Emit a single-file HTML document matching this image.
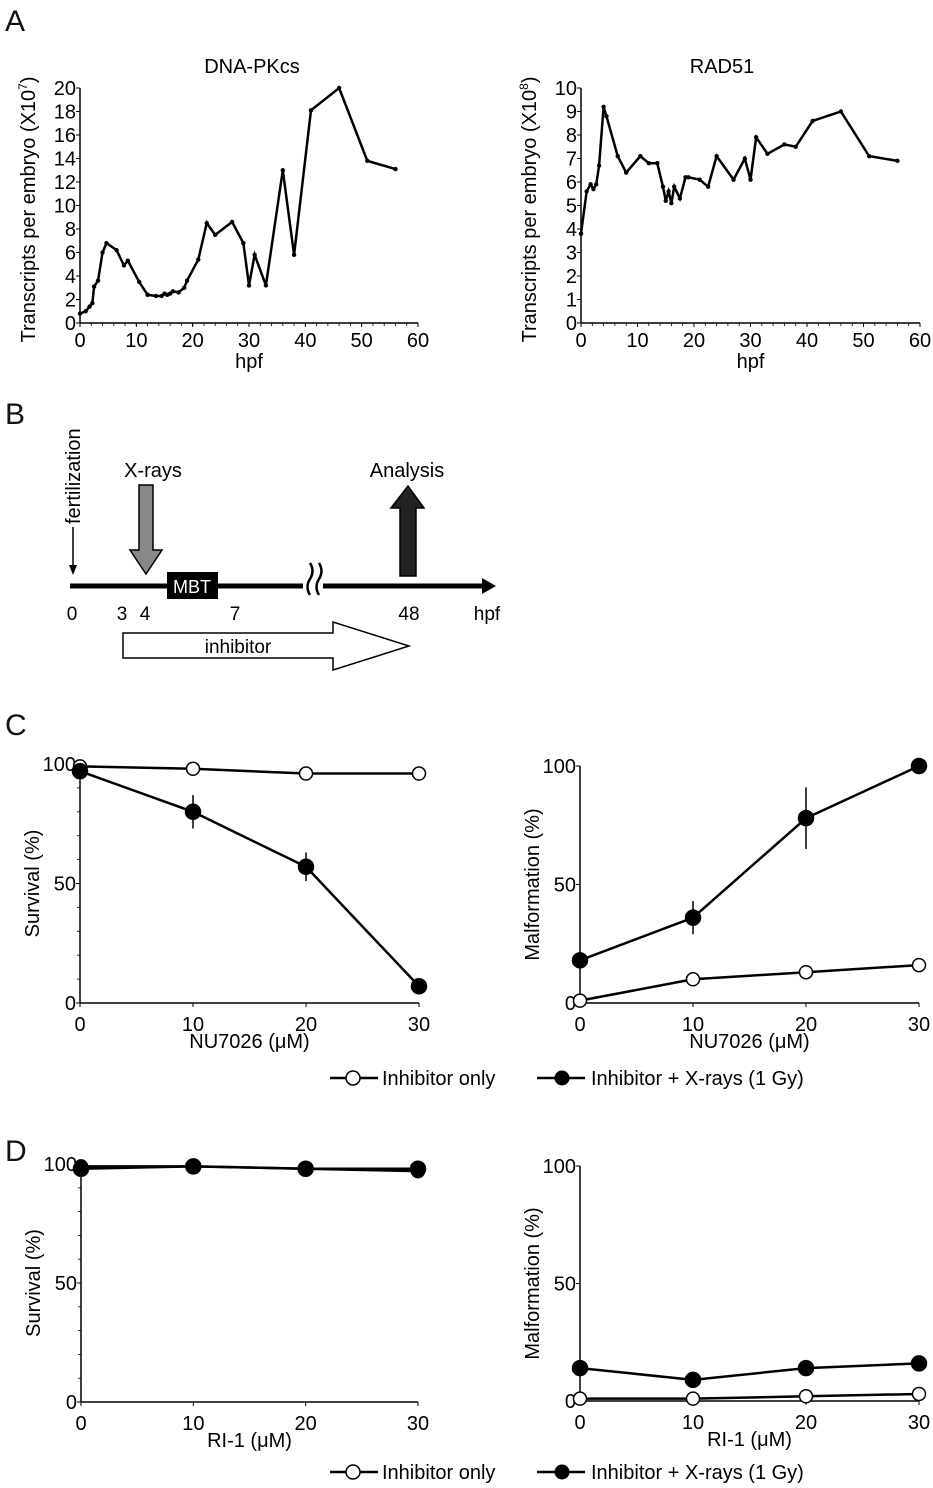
<!DOCTYPE html>
<html><head><meta charset="utf-8"><style>
body{margin:0;background:#fff;}
svg{display:block;font-family:"Liberation Sans",Arial,sans-serif;}
</style></head><body>
<svg id="fig" width="933" height="1488" viewBox="0 0 933 1488" xmlns="http://www.w3.org/2000/svg">
<g font-size="30" fill="#111">
<text x="5" y="31">A</text>
<text x="5" y="424">B</text>
<text x="5" y="735">C</text>
<text x="5" y="1161">D</text>
</g>
<g id="panelB">
<line x1="70" y1="586" x2="484" y2="586" stroke="#000" stroke-width="5"/>
<polygon points="482,578 496,586 482,594" fill="#000"/>
<rect x="303" y="570" width="20" height="32" fill="#fff"/>
<path d="M310,563 q5,8 0,16 q-5,8 0,16 M319,563 q5,8 0,16 q-5,8 0,16" stroke="#000" stroke-width="2.5" fill="none"/>
<line x1="73" y1="527" x2="73" y2="572" stroke="#000" stroke-width="1.5"/>
<polygon points="69,565 73,575 77,565" fill="#000"/>
<text transform="translate(80,524) rotate(-90)" font-size="20">fertilization</text>
<polygon points="139,485 153,485 153,550 162,550 146,574 130,550 139,550" fill="#888" stroke="#000" stroke-width="1.5"/>
<text x="153" y="477" font-size="20" text-anchor="middle">X-rays</text>
<rect x="167" y="572" width="51" height="27" fill="#000"/>
<text x="192" y="593" font-size="18" fill="#fff" text-anchor="middle">MBT</text>
<polygon points="400,576 416,576 416,508 424,508 408,486 391,508 400,508" fill="#222" stroke="#000" stroke-width="1.5"/>
<text x="407" y="477" font-size="20" text-anchor="middle">Analysis</text>
<g font-size="19" text-anchor="middle">
<text x="72" y="620">0</text><text x="122" y="620">3</text><text x="145" y="620">4</text><text x="235" y="620">7</text><text x="409" y="620">48</text><text x="487" y="620">hpf</text>
</g>
<polygon points="123,633 333,633 333,622 409,646 333,670 333,658 123,658" fill="#fff" stroke="#000" stroke-width="1.5"/>
<text x="238" y="653" font-size="19" text-anchor="middle">inhibitor</text>
</g>
<g id="charts"></g>
<g font-size="20">
<line x1="330" y1="1078" x2="378" y2="1078" stroke="#000" stroke-width="2.5"/>
<circle cx="353" cy="1078" r="7" fill="#fff" stroke="#000" stroke-width="1.5"/>
<text x="382" y="1085">Inhibitor only</text>
<line x1="537" y1="1078" x2="585" y2="1078" stroke="#000" stroke-width="2.5"/>
<circle cx="562" cy="1078" r="7.5" fill="#000"/>
<text x="591" y="1085">Inhibitor + X-rays (1 Gy)</text>
</g>
<g font-size="20">
<line x1="330" y1="1472" x2="378" y2="1472" stroke="#000" stroke-width="2.5"/>
<circle cx="353" cy="1472" r="7" fill="#fff" stroke="#000" stroke-width="1.5"/>
<text x="382" y="1479">Inhibitor only</text>
<line x1="537" y1="1472" x2="585" y2="1472" stroke="#000" stroke-width="2.5"/>
<circle cx="562" cy="1472" r="7.5" fill="#000"/>
<text x="591" y="1479">Inhibitor + X-rays (1 Gy)</text>
</g>
</svg>
<script>
const NS="http://www.w3.org/2000/svg";
// Panel A data
const dnaHpf=[0,1,1.7,2.2,2.5,3.2,4,4.7,6.5,7.8,8.5,10.5,12,13.5,14.5,15,15.5,16,16.5,17.5,18.5,19,21,22.5,24,27,29,30,31,33,36,38,41,46,51,56];
const dnaVals=[0.8,1.0,1.4,1.7,3.1,3.6,6.0,6.8,6.2,4.9,5.3,3.5,2.4,2.3,2.3,2.5,2.4,2.5,2.7,2.6,3.0,3.6,5.4,8.5,7.5,8.6,6.8,3.2,5.8,3.2,13.0,5.8,18.1,20,13.8,13.1];
const radHpf=[0,1,1.7,2.2,2.7,3.2,4,4.5,6.5,8,10.5,12,13.5,14.5,15,15.5,16,16.5,17.5,18.5,19,21,22.5,24,27,29,30,31,33,36,38,41,46,51,56];
const radVals=[3.8,5.6,5.9,5.7,5.9,6.7,9.2,8.8,7.1,6.4,7.1,6.8,6.8,5.8,5.2,5.6,5.1,5.8,5.3,6.2,6.2,6.1,5.8,7.1,6.1,7.0,6.1,7.9,7.2,7.6,7.5,8.6,9.0,7.1,6.9];
const hpfTicks=[0,10,20,30,40,50,60];
const dnaTicks=[0,2,4,6,8,10,12,14,16,18,20];
const radTicks=[0,1,2,3,4,5,6,7,8,9,10];
// Panel C/D data
const doses=[0,10,20,30];
const doseTicks=[0,10,20,30];
const pctTicks=[0,50,100];
const cSurvOpen=[99,98,96,96];
const cSurvOpenErr=[0,0,2,0];
const cSurvFilled=[97,80,57,7];
const cSurvFilledErr=[0,7,6,3];
const cMalOpen=[1,10,13,16];
const cMalOpenErr=[0,0,0,3];
const cMalFilled=[18,36,78,100];
const cMalFilledErr=[0,7,13,0];
const dSurvOpen=[99,99,98,97];
const dSurvOpenErr=[0,0,0,0];
const dSurvFilled=[98,99,98,98];
const dSurvFilledErr=[0,0,0,0];
const dMalOpen=[1,1,2,3];
const dMalOpenErr=[0,0,0,0];
const dMalFilled=[14,9,14,16];
const dMalFilledErr=[0,2,0,3];

const root=document.getElementById('charts');
function el(tag,attrs,parent){const e=document.createElementNS(NS,tag);for(const k in attrs)e.setAttribute(k,attrs[k]);(parent||root).appendChild(e);return e;}
function txt(s,attrs,parent){const t=el('text',attrs,parent);t.textContent=s;return t;}

function axes(g,o){
  const sx=v=>o.x0+(v-o.xmin)/(o.xmax-o.xmin)*(o.x1-o.x0);
  const sy=v=>o.y0-(v-o.ymin)/(o.ymax-o.ymin)*(o.y0-o.y1);
  const ax=el('line',{x1:o.x0,y1:o.y0,x2:o.x1,y2:o.y0,stroke:'#000','stroke-width':1.5},g);
  
  const ay=el('line',{x1:o.x0,y1:o.y0,x2:o.x0,y2:o.y1,stroke:'#000','stroke-width':1.5},g);
  
  o.xt.forEach(v=>{
    el('line',{x1:sx(v),y1:o.y0,x2:sx(v),y2:o.y0+4,stroke:'#000','stroke-width':1},g);
    const t=txt(String(v),{x:sx(v),y:o.y0+o.xlOff,'font-size':o.fs,'text-anchor':'middle'},g);
    
  });
  if(o.xminor){for(let v=o.xmin;v<=o.xmax;v+=o.xminor)el('line',{x1:sx(v),y1:o.y0,x2:sx(v),y2:o.y0+3,stroke:'#000','stroke-width':0.8},g);}
  if(o.yminor){for(let v=o.ymin;v<=o.ymax;v+=o.yminor)el('line',{x1:o.x0-3,y1:sy(v),x2:o.x0,y2:sy(v),stroke:'#000','stroke-width':0.8},g);}
  o.yt.forEach(v=>{
    el('line',{x1:o.x0-4,y1:sy(v),x2:o.x0,y2:sy(v),stroke:'#000','stroke-width':1},g);
    const t=txt(String(v),{x:o.x0-4,y:sy(v)+o.fs*0.36,'font-size':o.fs,'text-anchor':'end'},g);
    
  });
  return {sx,sy};
}

function lineChart(o,xs,ys,name){
  const g=el('g',{});
  
  const {sx,sy}=axes(g,o);
  const pts=xs.map((x,i)=>sx(x)+','+sy(ys[i])).join(' ');
  const p=el('polyline',{points:pts,fill:'none',stroke:'#000','stroke-width':2.5,'stroke-linejoin':'miter'},g);
  
  xs.forEach((x,i)=>{const c=el('circle',{cx:sx(x),cy:sy(ys[i]),r:2.2,fill:'#000'},g);
    });
  const tt=txt(o.title,{x:o.tx,y:o.ty,'font-size':20,'text-anchor':'middle'},g);
  
  const xl=txt('hpf',{x:(o.x0+o.x1)/2,y:o.y0+45,'font-size':20,'text-anchor':'middle'},g);
  
  const yl=el('text',{transform:`translate(${o.x0-45},${(o.y0+o.y1)/2+4}) rotate(-90)`,'font-size':20,'text-anchor':'middle'},g);
  
  yl.textContent=o.ytitle;
  const sup=el('tspan',{'font-size':12,dy:-8},yl);sup.textContent=o.exp;
  const cl=el('tspan',{dy:8},yl);cl.textContent=')';
}

lineChart({x0:80,x1:418,y0:323,y1:88,xmin:0,xmax:60,ymin:0,ymax:20,xt:hpfTicks,yt:dnaTicks,xminor:2,fs:20,xlOff:24,title:'DNA-PKcs',tx:252,ty:73,ytitle:'Transcripts per embryo (X10',exp:'7'},dnaHpf,dnaVals,'dna-pkcs-chart');
lineChart({x0:581,x1:920,y0:323,y1:88,xmin:0,xmax:60,ymin:0,ymax:10,xt:hpfTicks,yt:radTicks,xminor:2,fs:20,xlOff:24,title:'RAD51',tx:722,ty:73,ytitle:'Transcripts per embryo (X10',exp:'8'},radHpf,radVals,'rad51-chart');

function doseChart(o,series,name){
  const g=el('g',{});
  
  const {sx,sy}=axes(g,o);
  series.forEach(s=>{
    const pts=doses.map((x,i)=>sx(x)+','+sy(s.v[i])).join(' ');
    const p=el('polyline',{points:pts,fill:'none',stroke:'#000','stroke-width':2.5},g);
    
  });
  series.forEach(s=>{
    doses.forEach((x,i)=>{
      if(s.e[i]>0){const eb=el('line',{x1:sx(x),x2:sx(x),y1:sy(s.v[i]-s.e[i]),y2:sy(s.v[i]+s.e[i]),stroke:'#000','stroke-width':1.5},g);
        }
      const c=el('circle',{cx:sx(x),cy:sy(s.v[i]),r:s.open?6.5:7.5,fill:s.open?'#fff':'#000',stroke:'#000','stroke-width':1.5},g);
      
    });
  });
  const xl=txt(o.xtitle,{x:(o.x0+o.x1)/2,y:o.y0+45,'font-size':20,'text-anchor':'middle'},g);
  
  const yl=txt(o.ytitle,{transform:`translate(${o.x0-41},${(o.y0+o.y1)/2}) rotate(-90)`,'font-size':20,'text-anchor':'middle'},g);
  
}
const base={xmin:0,xmax:30,ymin:0,ymax:100,xt:doseTicks,yt:pctTicks,fs:20,xlOff:28};
doseChart(Object.assign({},base,{x0:80,x1:419,y0:1003,y1:764,yminor:10,xtitle:'NU7026 (\u03BCM)',ytitle:'Survival (%)'}),
  [{v:cSurvOpen,e:cSurvOpenErr,open:true,name:'inhibitor-only'},{v:cSurvFilled,e:cSurvFilledErr,open:false,name:'inhibitor-xrays'}],'c-survival-chart');
doseChart(Object.assign({},base,{x0:580,x1:919,y0:1003,y1:766,xtitle:'NU7026 (\u03BCM)',ytitle:'Malformation (%)'}),
  [{v:cMalOpen,e:cMalOpenErr,open:true,name:'inhibitor-only'},{v:cMalFilled,e:cMalFilledErr,open:false,name:'inhibitor-xrays'}],'c-malformation-chart');
doseChart(Object.assign({},base,{x0:81,x1:418,y0:1402,y1:1164,yminor:10,xtitle:'RI-1 (\u03BCM)',ytitle:'Survival (%)'}),
  [{v:dSurvOpen,e:dSurvOpenErr,open:true,name:'inhibitor-only'},{v:dSurvFilled,e:dSurvFilledErr,open:false,name:'inhibitor-xrays'}],'d-survival-chart');
doseChart(Object.assign({},base,{x0:580,x1:919,y0:1401,y1:1166,xtitle:'RI-1 (\u03BCM)',ytitle:'Malformation (%)'}),
  [{v:dMalOpen,e:dMalOpenErr,open:true,name:'inhibitor-only'},{v:dMalFilled,e:dMalFilledErr,open:false,name:'inhibitor-xrays'}],'d-malformation-chart');
</script>
</body></html>
